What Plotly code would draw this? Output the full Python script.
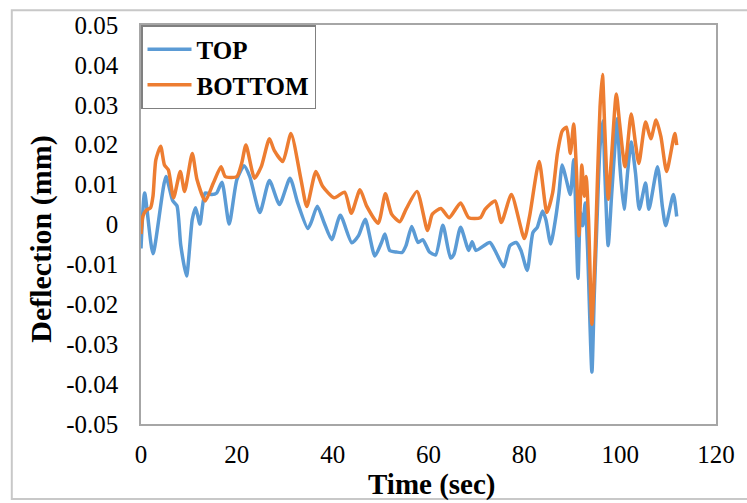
import plotly.graph_objects as go

# Deflection time histories (time in s, deflection in mm)
time_top = [0, 0.76, 2.5, 5.2, 6.6, 7.5, 8.3, 9.5, 10.7, 11.4, 12.3, 13.4, 14.8, 15.8,
            16.9, 18.4, 20, 21.5, 22.7, 24.8, 26.8, 28.9, 31.1, 32.7, 34.8, 35.5,
            36.8, 38.2, 39.8, 41.6, 44, 45.4, 46.8, 48.8, 50.2, 50.9, 51.9, 53.3,
            54.5, 55.3, 56.5, 57.8, 58.8, 60.2, 61.5, 63, 64.6, 65.3, 66.7, 68.4,
            69.1, 69.9, 72.8, 74.2, 75.7, 77, 78.3, 79.3, 80.6, 81.8, 82.7, 83.8,
            84.5, 85.5, 86.6, 87.2, 87.9, 88.6, 89.6, 90.3, 91.2, 91.7, 92.2, 92.7,
            93.2, 94.1, 94.6, 95.1, 95.8, 96.4, 96.8, 97.5, 98.2, 98.9, 99.4, 99.9,
            100.8, 101.6, 102.3, 103.2, 104.0, 105.3, 106.0, 107.8, 108.8, 109.5,
            111.1, 111.8]
defl_top = [-0.006, 0.0079, -0.0073, 0.012, 0.006, 0.0047, -0.0052, -0.0129, 0.0013,
            0.0042, 0.0001, 0.0079, 0.0075, 0.0079, 0.0106, 0.0001, 0.0112, 0.0147,
            0.012, 0.003, 0.011, 0.005, 0.0116, 0.0054, -0.001, 0.0005, 0.0046,
            0.0005, -0.0038, 0.0023, -0.0046, -0.0028, 0.0013, -0.0079, -0.0045,
            -0.0024, -0.0065, -0.0069, -0.007, -0.0053, -0.0005, -0.0045, -0.0038,
            -0.0069, -0.0076, -0.0002, -0.0084, -0.0075, -0.0007, -0.0065, -0.0043,
            -0.0065, -0.0045, -0.0073, -0.0106, -0.0053, -0.0045, -0.0065, -0.0115,
            -0.002, -0.0007, 0.0034, 0.0012, -0.0049, 0.0021, 0.0075, 0.0149, 0.012,
            0.0075, 0.0162, -0.0135, 0.003, -0.0003, 0.0054, -0.0061, -0.037, -0.0176,
            -0.0012, 0.0195, 0.026, 0.0129, -0.0053, 0.0071, 0.0195, 0.0265, 0.0153,
            0.0038, 0.0137, 0.0207, 0.0129, 0.0038, 0.0104, 0.0038, 0.0145, 0.0046,
            -0.0003, 0.0075, 0.002]

time_bottom = [0, 0.4, 1.1, 2, 2.5, 3.1, 4.1, 4.9, 5.7, 6.8, 8.2, 9.1, 10.7, 11.7,
               13.4, 15.1, 16.7, 17.6, 20, 21, 21.9, 23.7, 25.1, 26.8, 27.8, 29.6,
               31.3, 33.4, 34.6, 36.5, 37.9, 40.3, 42.5, 43.9, 45.7, 47.1, 49.5, 51,
               52.3, 54, 55.3, 57.6, 59.8, 60.8, 62.6, 64.3, 66.7, 68.4, 70.8, 71.8,
               73.9, 75.2, 77.3, 80, 81.1, 83.1, 84.7, 85.9, 86.9, 87.9, 88.8, 89.6,
               90.3, 90.9, 91.4, 92, 92.5, 92.9, 93.4, 94.1, 94.8, 95.3, 95.8, 96.3,
               96.8, 97.5, 98.2, 99.2, 99.9, 101, 102.3, 103.2, 103.9, 105.3, 106.4,
               107.5, 108.5, 109.7, 111.4, 111.8]
defl_bottom = [-0.0024, 0.0021, 0.0036, 0.0042, 0.0071, 0.0162, 0.0196, 0.0149, 0.0137,
               0.0067, 0.0133, 0.0083, 0.0178, 0.0112, 0.0059, 0.0104, 0.0145, 0.012,
               0.012, 0.0153, 0.0199, 0.0116, 0.0145, 0.0215, 0.0186, 0.0158, 0.0228,
               0.0112, 0.0045, 0.0133, 0.0096, 0.0067, 0.0081, 0.0028, 0.0087, 0.0046,
               0.0003, 0.0077, 0.0026, 0.0007, 0.0038, 0.0083, -0.0015, 0.0026, 0.004,
               0.0017, 0.0054, 0.0017, 0.0017, 0.0038, 0.0059, 0.0005, 0.0075, -0.0035,
               0.0021, 0.0158, 0.003, 0.0079, 0.0178, 0.0234, 0.0244, 0.0178, 0.0252,
               0.0129, -0.0028, 0.0149, 0.0071, 0.012, 0.0013, -0.025, -0.0061, 0.0129,
               0.0294, 0.0376, 0.0236, 0.0063, 0.017, 0.0327, 0.0252, 0.0145, 0.0277,
               0.0203, 0.0153, 0.0257, 0.0215, 0.0262, 0.022, 0.0133, 0.0228, 0.0199]

x_ticks = [0, 20, 40, 60, 80, 100, 120]
y_ticks = [0.05, 0.04, 0.03, 0.02, 0.01, 0, -0.01, -0.02, -0.03, -0.04, -0.05]
y_tick_text = ["0.05", "0.04", "0.03", "0.02", "0.01", "0", "-0.01", "-0.02",
               "-0.03", "-0.04", "-0.05"]

SERIF = "Liberation Serif"

fig = go.Figure()
fig.add_trace(go.Scatter(x=time_top, y=defl_top, mode="lines", name="TOP",
                         line=dict(color="#5B9BD5", width=3.5, shape="spline", smoothing=0.6)))
fig.add_trace(go.Scatter(x=time_bottom, y=defl_bottom, mode="lines", name="BOTTOM",
                         line=dict(color="#ED7D31", width=3.5, shape="spline", smoothing=0.6)))

tick_font = dict(family=SERIF, size=25, color="black")
title_font = dict(family=SERIF, size=29, weight="bold", color="black")

fig.update_layout(
    width=747, height=503,
    margin=dict(l=141, r=23, t=20, b=79),
    paper_bgcolor="white", plot_bgcolor="white",
    font=dict(family=SERIF, color="black", size=24),
    showlegend=True,
    legend=dict(x=0.0, y=1.0, xanchor="left", yanchor="top",
                bgcolor="white", bordercolor="#808080", borderwidth=1.5,
                font=dict(family=SERIF, size=25, color="black", weight="bold"),
                tracegroupgap=0, itemwidth=44),
    xaxis=dict(range=[0, 120], tickvals=x_ticks, showgrid=False, zeroline=False,
               showline=True, linecolor="#a6a6a6", linewidth=1.5, mirror=True,
               ticks="", tickfont=tick_font, ticklabelstandoff=7),
    yaxis=dict(range=[-0.05, 0.05], tickvals=y_ticks, ticktext=y_tick_text,
               showgrid=False, zeroline=False, showline=True, linecolor="#a6a6a6",
               linewidth=1.5, mirror=True, ticks="", tickfont=tick_font,
               ticklabelstandoff=16),
    annotations=[
        dict(text="Time (sec)", showarrow=False, xref="paper", yref="paper",
             x=0.506, y=-0.152, xanchor="center", yanchor="middle", font=title_font),
        dict(text="Deflection (mm)", textangle=-90, showarrow=False,
             xref="paper", yref="paper", x=-0.173, y=0.463,
             xanchor="center", yanchor="middle",
             font=dict(family=SERIF, size=30, weight="bold", color="black")),
    ],
    shapes=[dict(type="rect", xref="paper", yref="paper",
                 x0=-0.2247, x1=1.1, y0=-0.188, y1=1.037,
                 line=dict(color="#c8c8c8", width=2), layer="below")],
)

fig.write_html("out.html")
